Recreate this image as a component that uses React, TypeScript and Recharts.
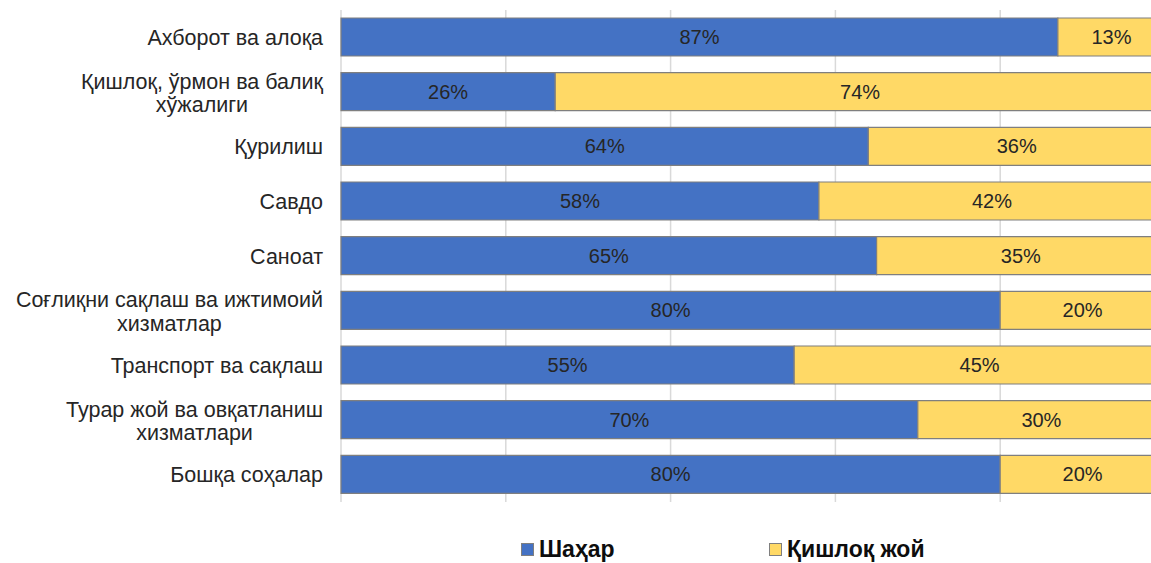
import { BarChart, Bar, XAxis, YAxis, CartesianGrid, LabelList, Legend } from 'recharts'

const categories = [
  'Ахборот ва алоқа',
  'Қишлоқ, ўрмон ва балиқ\nхўжалиги',
  'Қурилиш',
  'Савдо',
  'Саноат',
  'Соғлиқни сақлаш ва ижтимоий\nхизматлар',
  'Транспорт ва сақлаш',
  'Турар жой ва овқатланиш\nхизматлари',
  'Бошқа соҳалар',
]
const urban = [87, 26, 64, 58, 65, 80, 55, 70, 80]
const rural = [13, 74, 36, 42, 35, 20, 45, 30, 20]
const xTicks = [0, 20, 40, 60, 80, 100]
const seriesNames = ['Шаҳар', 'Қишлоқ жой']

const data = categories.map((name, i) => ({ name, urban: urban[i], rural: rural[i] }))

const BLUE = '#4472C4'
const YELLOW = '#FFD966'
const FONT = 'Arial, "Liberation Sans", sans-serif'
const TICK_SIZE = 21.5

// measure text width so the wrapped second line can be centred under the first
function textWidth(s: string) {
  const ctx = document.createElement('canvas').getContext('2d')
  if (!ctx) return s.length * 10
  ctx.font = `${TICK_SIZE}px "Liberation Sans"`
  return ctx.measureText(s).width
}

function CategoryTick({ x, y, payload }: any) {
  const lines = String(payload.value).split('\n')
  const right = x - 10
  if (lines.length === 1) {
    return (
      <text x={right} y={y} dy="0.35em" textAnchor="end" fontSize={TICK_SIZE} fill="#262626" fontFamily={FONT}>
        {lines[0]}
      </text>
    )
  }
  const cx = right - textWidth(lines[0]) / 2
  return (
    <g>
      <text x={cx} y={y - 11} dy="0.35em" textAnchor="middle" fontSize={TICK_SIZE} fill="#262626" fontFamily={FONT}>
        {lines[0]}
      </text>
      <text x={cx} y={y + 12.5} dy="0.35em" textAnchor="middle" fontSize={TICK_SIZE} fill="#262626" fontFamily={FONT}>
        {lines[1]}
      </text>
    </g>
  )
}

function LegendBox() {
  const items = [
    { label: seriesNames[0], color: BLUE, left: 521 },
    { label: seriesNames[1], color: YELLOW, left: 769 },
  ]
  return (
    <div style={{ position: 'relative', height: 0 }}>
      {items.map((it) => (
        <div
          key={it.label}
          style={{ position: 'absolute', left: it.left, top: 0, display: 'flex', alignItems: 'center', whiteSpace: 'nowrap' }}
        >
          <span style={{ width: 11, height: 11, background: it.color, border: '1px solid #7f7f7f', display: 'inline-block', marginRight: 5 }} />
          <span style={{ fontFamily: FONT, fontWeight: 'bold', fontSize: 23, color: '#0d0d0d', lineHeight: '26px' }}>{it.label}</span>
        </div>
      ))}
    </div>
  )
}

export default function App() {
  return (
    <div style={{ position: 'absolute', left: 0, top: 0, width: 1151, height: 563, overflow: 'hidden', background: '#fff' }}>
      <BarChart
        width={1165}
        height={563}
        data={data}
        layout="vertical"
        margin={{ top: 10, right: 0, left: 0, bottom: 61 }}
      >
        <CartesianGrid horizontal={false} stroke="#d9d9d9" strokeWidth={1.5} />
        <XAxis type="number" domain={[0, 100]} ticks={xTicks} hide />
        <YAxis
          type="category"
          dataKey="name"
          width={341}
          axisLine={false}
          tickLine={false}
          tick={<CategoryTick />}
          interval={0}
        />
        <Bar dataKey="urban" stackId="a" barSize={38} fill={BLUE} stroke="#7f7f7f" strokeWidth={1.2} isAnimationActive={false}>
          <LabelList dataKey="urban" position="center" formatter={(v: any) => `${v}%`} fill="#262626" fontSize={20} fontFamily={FONT} />
        </Bar>
        <Bar dataKey="rural" stackId="a" barSize={38} fill={YELLOW} stroke="#7f7f7f" strokeWidth={1.2} isAnimationActive={false}>
          <LabelList dataKey="rural" position="center" formatter={(v: any) => `${v}%`} fill="#262626" fontSize={20} fontFamily={FONT} />
        </Bar>
        <Legend content={<LegendBox />} wrapperStyle={{ top: 536, left: 0, bottom: 'auto', width: 1151, height: 0 }} />
      </BarChart>
    </div>
  )
}
